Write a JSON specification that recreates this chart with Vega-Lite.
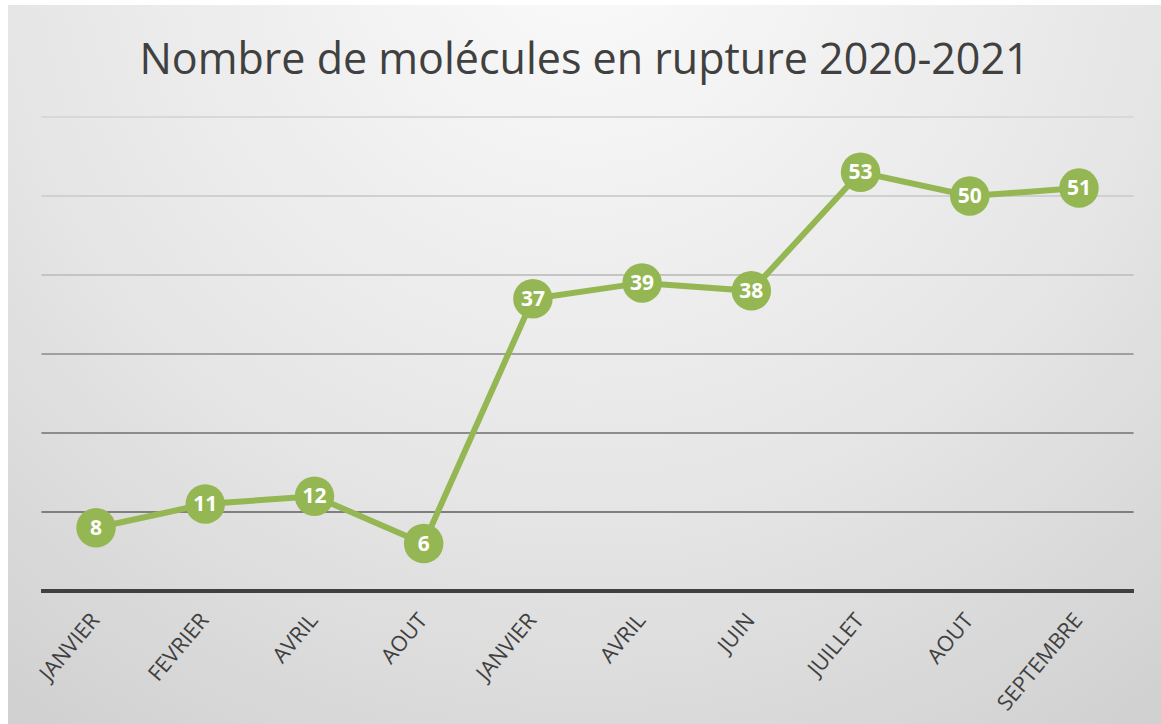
{
  "$schema": "https://vega.github.io/schema/vega-lite/v6.json",
  "width": 1161,
  "height": 724,
  "autosize": {"type": "fit", "contains": "padding"},
  "padding": {"left": 8, "top": 5, "right": 0, "bottom": 0},
  "background": "#ffffff",
  "config": {
    "view": {
      "stroke": null,
      "fill": {
        "gradient": "radial",
        "x1": 0.5, "y1": 0.12, "r1": 0,
        "x2": 0.5, "y2": 0.12, "r2": 0.9,
        "stops": [
          {"offset": 0, "color": "#fbfbfb"},
          {"offset": 0.55, "color": "#e6e6e6"},
          {"offset": 1, "color": "#cdcdcd"}
        ]
      }
    }
  },
  "title": {
    "text": "Nombre de molécules en rupture 2020-2021",
    "font": "Open Sans",
    "fontSize": 43,
    "fontWeight": "normal",
    "color": "#404040",
    "anchor": "middle",
    "frame": "group",
    "baseline": "alphabetic",
    "offset": -112
  },
  "datasets": {
    "ruptures": [
      {"rang": 1, "mois": "JANVIER", "annee": 2020, "valeur": 8},
      {"rang": 2, "mois": "FEVRIER", "annee": 2020, "valeur": 11},
      {"rang": 3, "mois": "AVRIL", "annee": 2020, "valeur": 12},
      {"rang": 4, "mois": "AOUT", "annee": 2020, "valeur": 6},
      {"rang": 5, "mois": "JANVIER", "annee": 2021, "valeur": 37},
      {"rang": 6, "mois": "AVRIL", "annee": 2021, "valeur": 39},
      {"rang": 7, "mois": "JUIN", "annee": 2021, "valeur": 38},
      {"rang": 8, "mois": "JUILLET", "annee": 2021, "valeur": 53},
      {"rang": 9, "mois": "AOUT", "annee": 2021, "valeur": 50},
      {"rang": 10, "mois": "SEPTEMBRE", "annee": 2021, "valeur": 51}
    ],
    "grille": [
      {"niveau": 10}, {"niveau": 20}, {"niveau": 30},
      {"niveau": 40}, {"niveau": 50}, {"niveau": 60}
    ]
  },
  "data": {"name": "ruptures"},
  "layer": [
    {
      "data": {"name": "grille"},
      "mark": {"type": "rule", "strokeWidth": 2},
      "encoding": {
        "y": {"field": "niveau", "type": "quantitative", "scale": {"domain": [-16.84, 74.18], "nice": false, "zero": false}, "axis": null},
        "x": {"datum": 0.5, "type": "quantitative", "scale": {"domain": [0.194, 10.751], "nice": false, "zero": false}, "axis": null},
        "x2": {"datum": 10.5},
        "color": {
          "field": "niveau", "type": "ordinal",
          "scale": {"domain": [10, 20, 30, 40, 50, 60], "range": ["#7f7f7f", "#8c8c8c", "#a0a0a0", "#c4c4c4", "#d0d0d0", "#d8d8d8"]},
          "legend": null
        }
      }
    },
    {
      "mark": {"type": "rule", "strokeWidth": 3.5, "color": "#404040"},
      "encoding": {
        "y": {"datum": 0, "type": "quantitative"},
        "x": {"datum": 0.5, "type": "quantitative"},
        "x2": {"datum": 10.5}
      }
    },
    {
      "mark": {"type": "line", "color": "#95b753", "strokeWidth": 6},
      "encoding": {
        "x": {"field": "rang", "type": "quantitative"},
        "y": {"field": "valeur", "type": "quantitative"}
      }
    },
    {
      "mark": {"type": "point", "shape": "circle", "filled": true, "opacity": 1, "size": 1560, "color": "#95b753"},
      "encoding": {
        "x": {"field": "rang", "type": "quantitative"},
        "y": {"field": "valeur", "type": "quantitative"}
      }
    },
    {
      "mark": {"type": "text", "color": "#ffffff", "font": "Open Sans", "fontWeight": "bold", "fontSize": 21, "align": "center", "baseline": "middle", "dy": 1},
      "encoding": {
        "x": {"field": "rang", "type": "quantitative"},
        "y": {"field": "valeur", "type": "quantitative"},
        "text": {"field": "valeur", "type": "quantitative"}
      }
    },
    {
      "mark": {"type": "text", "color": "#404040", "font": "Open Sans", "fontSize": 21.5, "align": "right", "baseline": "middle", "angle": -50},
      "encoding": {
        "x": {"field": "rang", "type": "quantitative"},
        "y": {"datum": -3.3, "type": "quantitative"},
        "text": {"field": "mois", "type": "nominal"}
      }
    }
  ]
}
